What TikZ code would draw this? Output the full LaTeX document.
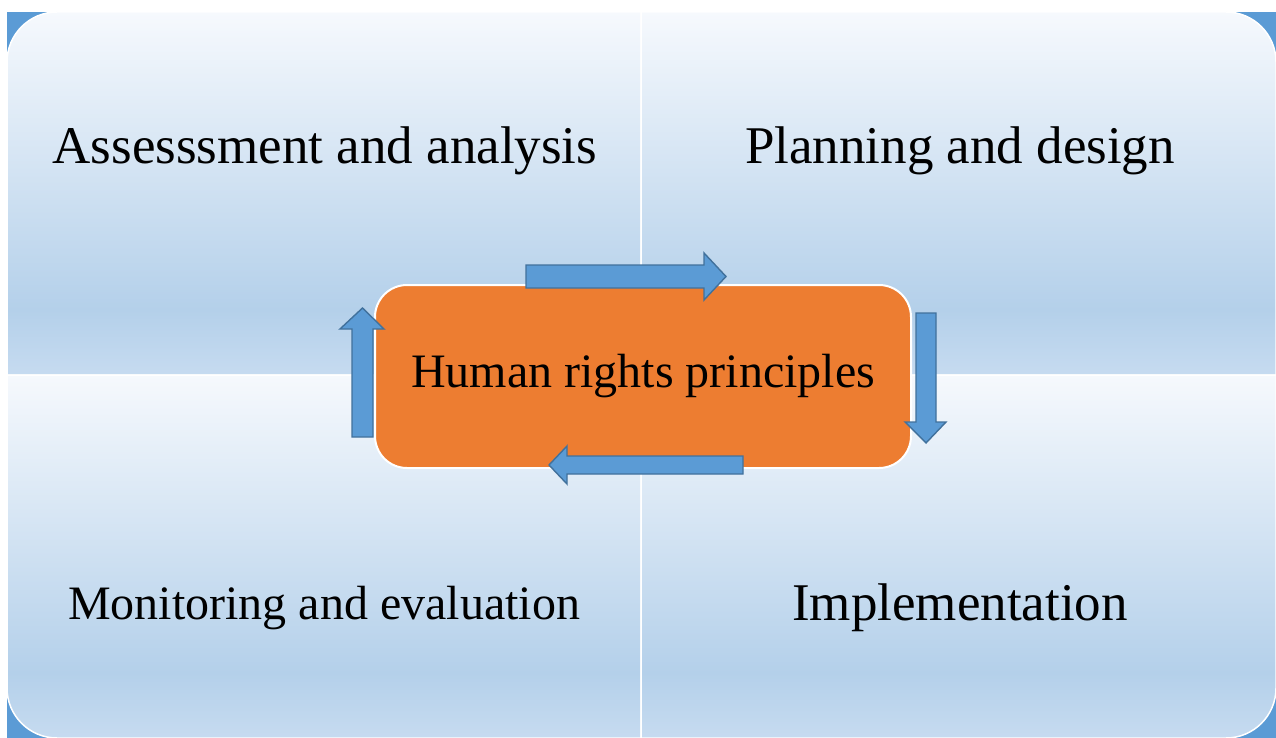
\documentclass[tikz,border=0pt]{standalone}
\usepackage{fontspec}
\setmainfont{Liberation Serif}
\newfontfamily\labelface{Liberation Serif}
\definecolor{accentblue}{HTML}{5B9BD5}
\definecolor{arrowedge}{HTML}{41719C}
\definecolor{hubfill}{HTML}{ED7D31}
\definecolor{panelTop}{HTML}{F6F9FD}
\definecolor{panelDeep}{HTML}{B4D0EA}
\definecolor{panelBottom}{HTML}{C6DBF0}
% soft office-style panel gradient: light top, deep near bottom, slightly lighter at the edge
\pgfdeclareverticalshading{panelshade}{100bp}{%
  color(0bp)=(panelBottom); color(25bp)=(panelBottom); color(34bp)=(panelDeep);
  color(75bp)=(panelTop); color(100bp)=(panelTop)}
\begin{document}
\begin{tikzpicture}[x=1pt,y=-1pt,
  panel/.style={shading=panelshade, draw=white, line width=1.5pt},
  blockarrow/.style={fill=accentblue, draw=arrowedge, line width=1.4pt, line join=miter},
  phase/.style={font=\labelface\fontsize{53}{60}\selectfont, anchor=base, inner sep=0pt},
  hub/.style={fill=hubfill, draw=white, line width=2pt, rounded corners=32pt,
    minimum width=536pt, minimum height=183pt, inner sep=0pt,
    font=\labelface\fontsize{48}{56}\selectfont}]
\useasboundingbox (0,0) rectangle (1276,738);
\fill[white] (0,0) rectangle (1276,738);
% blue backdrop showing behind the rounded outer corners
\fill[accentblue] (7,12) rectangle (1276,738);

% four panels of the cycle (y axis points down, so angles run clockwise)
\shade[panel] (7,375) -- (7,62) arc[start angle=180, end angle=270, radius=50] -- (641,12) -- (641,375) -- cycle;
\shade[panel] (641,375) -- (641,12) -- (1226,12) arc[start angle=270, end angle=360, radius=50] -- (1276,375) -- cycle;
\shade[panel] (7,375) -- (641,375) -- (641,738) -- (57,738) arc[start angle=90, end angle=180, radius=50] -- cycle;
\shade[panel] (641,375) -- (1276,375) -- (1276,688) arc[start angle=0, end angle=90, radius=50] -- (641,738) -- cycle;

\node[phase] (assess) at (325,164) {Assesssment and analysis};
\node[phase] (plan)   at (960,164) {Planning and design};
\node[phase, font=\labelface\fontsize{48}{56}\selectfont] (monitor) at (324,619) {Monitoring and evaluation};
\node[phase] (impl)   at (960,620) {Implementation};

% central principle
\node[hub] (hub) at (643,376.5) {Human rights principles};

% circulating block arrows
\draw[blockarrow] (526,265) -- (704,265) -- (704,253) -- (726,276.5) -- (704,300) -- (704,288) -- (526,288) -- cycle;
\draw[blockarrow] (916,313) -- (936,313) -- (936,422) -- (946,422) -- (926,443) -- (905,422) -- (916,422) -- cycle;
\draw[blockarrow] (743,456) -- (743,474) -- (567,474) -- (567,484) -- (549,465) -- (567,446) -- (567,456) -- cycle;
\draw[blockarrow] (352,437) -- (352,329) -- (340,329) -- (362.5,308) -- (384,329) -- (373,329) -- (373,437) -- cycle;
\end{tikzpicture}
\end{document}
